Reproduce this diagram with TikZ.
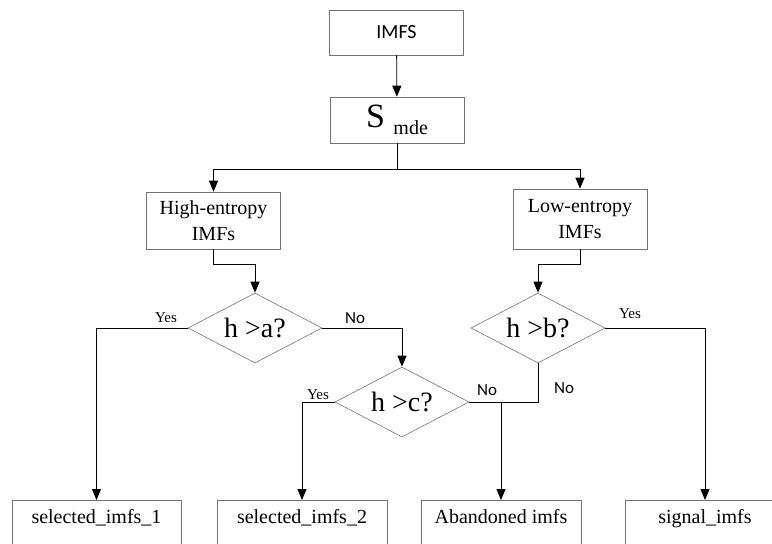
\documentclass[tikz,border=0pt]{standalone}
\usepackage{fontspec}
\setmainfont{Liberation Serif}
\newfontfamily\calfont{Carlito}
\usetikzlibrary{shapes.geometric,arrows.meta}
\definecolor{boxgray}{gray}{0.45}

\begin{document}
\begin{tikzpicture}[x=1pt,y=-1pt,
  box/.style={draw=boxgray,line width=0.6pt,minimum width=134pt,inner sep=0pt,
    font=\fontsize{20pt}{26pt}\selectfont,align=center},
  outbox/.style={box,anchor=north,minimum height=48pt,text height=13pt,text depth=15pt},
  decide/.style={diamond,draw=boxgray,line width=0.6pt,aspect=1.9,inner sep=0pt,
    minimum width=134pt,minimum height=70pt,font=\fontsize{28pt}{28pt}\selectfont},
  arr/.style={-{Triangle[length=11pt,width=9pt]},line width=0.8pt},
  yes/.style={anchor=base,font=\fontsize{15pt}{15pt}\selectfont},
  no/.style={anchor=base,font=\calfont\fontsize{17pt}{17pt}\selectfont}]
  \useasboundingbox (0,0) rectangle (772,544);
  \clip (0,0) rectangle (772,544);

  % entropy split
  \node[box,minimum height=45pt,font=\calfont\fontsize{20pt}{20pt}\selectfont] (imfs) at (396.5,32.5) {IMFS};
  \node[box,minimum height=46pt] (smde) at (397,120) {{\fontsize{34pt}{34pt}\selectfont S }\raisebox{-7pt}{mde}};
  \node[box,minimum height=57pt] (high) at (213.5,220.5) {High-entropy\\IMFs};
  \node[box,minimum height=60pt] (low) at (580,219) {Low-entropy\\IMFs};

  % thresholds
  \node[decide] (ha) at (255,328) {h >a?};
  \node[decide] (hb) at (538,328) {h >b?};
  \node[decide] (hc) at (402,402) {h >c?};

  % results
  \node[outbox,minimum width=169pt] (sel1) at (96.5,500) {selected\_imfs\_1};
  \node[outbox,minimum width=170pt] (sel2) at (302,500) {selected\_imfs\_2};
  \node[outbox,minimum width=160pt] (aband) at (501,500) {Abandoned imfs};
  \node[outbox,minimum width=160pt] (sig) at (705,500) {signal\_imfs};

  \node[yes] (ya) at (166,322) {Yes};
  \node[no] (na) at (355,323) {No};
  \node[yes] (yb) at (630,318) {Yes};
  \node[no] (nb) at (564,393) {No};
  \node[yes] (yc) at (318,399) {Yes};
  \node[no] (nc) at (487,395) {No};

  \draw[arr] (imfs) -- (smde);
  \draw[arr] (smde.south) -- ++(0,26) -| (high.north);
  \draw[arr] (smde.south) -- ++(0,26) -| (low.north);
  \draw[arr] (high.south) -- ++(0,15) -| (ha.north);
  \draw[arr] (low.south) -- ++(0,15) -| (hb.north);
  \draw[arr] (ha.west) -| (sel1.north);
  \draw[arr] (ha.east) -| (hc.north);
  \draw[arr] (hb.east) -| (sig.north);
  \draw[arr] (hc.west) -| (sel2.north);
  \draw[line width=0.8pt] (hc.east) -| (hb.south);
  \coordinate (merge) at (aband.north |- hc.east);
  \draw[arr] (merge) -- (aband.north);
\end{tikzpicture}
\end{document}
